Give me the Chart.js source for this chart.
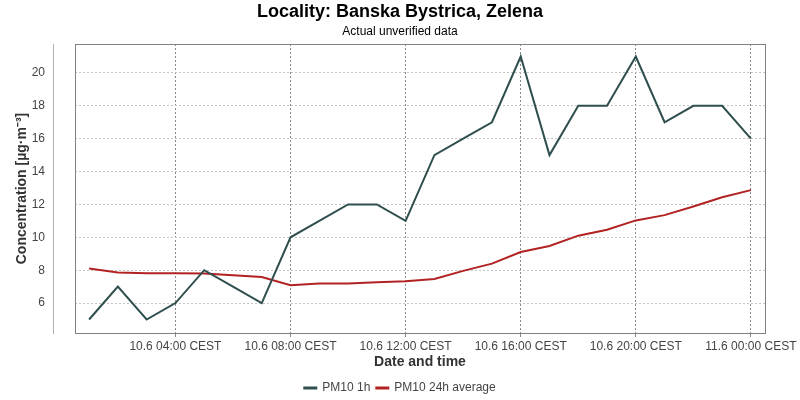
<!DOCTYPE html>
<html>
<head>
<meta charset="utf-8">
<script src="https://cdn.jsdelivr.net/npm/chart.js@4/dist/chart.umd.min.js"></script>
<style>
  html, body { margin: 0; padding: 0; background: #fff; }
  #wrap { width: 800px; height: 400px; }
</style>
</head>
<body>
<div id="wrap"><canvas id="pmChart" width="800" height="400"></canvas></div>
<script>
// hours after 10.6 00:00 CEST
const hours = [1, 2, 3, 4, 5, 6, 7, 8, 9, 10, 11, 12, 13, 14, 15, 16, 17, 18, 19, 20, 21, 22, 23, 24];
const pm10Hourly = [5, 7, 5, 6, 8, 7, 6, 10, 11, 12, 12, 11, 15, 16, 17, 21, 15, 18, 18, 21, 17, 18, 18, 16];
const pm10Daily = [8.1, 7.86, 7.82, 7.82, 7.8, 7.7, 7.59, 7.09, 7.19, 7.19, 7.27, 7.33, 7.47, 7.96, 8.4, 9.11, 9.47, 10.1, 10.46, 11.03, 11.35, 11.88, 12.44, 12.87];
const xTickHours = [4, 8, 12, 16, 20, 24];
const xTickLabels = ['10.6 04:00 CEST', '10.6 08:00 CEST', '10.6 12:00 CEST', '10.6 16:00 CEST', '10.6 20:00 CEST', '11.6 00:00 CEST'];
const yTicks = [6, 8, 10, 12, 14, 16, 18, 20];

const FONT = 'Liberation Sans, Arial, sans-serif';

// plot frame + detached y axis line
const framePlugin = {
    id: 'frame',
    afterDraw(chart) {
        const a = chart.chartArea;
        const ctx = chart.ctx;
        ctx.save();
        ctx.strokeStyle = '#808080';
        ctx.lineWidth = 1;
        ctx.strokeRect(Math.round(a.left) + 0.5, Math.round(a.top) + 0.5,
            Math.round(a.right - a.left), Math.round(a.bottom - a.top));
        ctx.strokeStyle = '#b0b0b0';
        ctx.beginPath();
        ctx.moveTo(Math.round(a.left) - 21.5, a.top);
        ctx.lineTo(Math.round(a.left) - 21.5, a.bottom + 1);
        ctx.stroke();
        ctx.restore();
    }
};

const toPoints = vals => vals.map((v, i) => ({ x: hours[i], y: v }));

new Chart(document.getElementById('pmChart'), {
    type: 'line',
    data: {
        datasets: [{
            label: 'PM10 1h',
            data: toPoints(pm10Hourly),
            borderColor: '#2f4f4f',
            backgroundColor: '#2f4f4f',
            borderWidth: 2,
            pointRadius: 0,
            tension: 0
        }, {
            label: 'PM10 24h average',
            data: toPoints(pm10Daily),
            borderColor: '#b22222',
            backgroundColor: '#b22222',
            borderWidth: 2,
            pointRadius: 0,
            tension: 0
        }]
    },
    options: {
        responsive: false,
        animation: false,
        layout: { padding: { left: 0, right: 0, top: 0, bottom: -4 } },
        plugins: {
            title: {
                display: true,
                text: 'Locality: Banska Bystrica, Zelena',
                color: '#000',
                font: { family: FONT, size: 18, weight: 'bold' },
                padding: { top: 1, bottom: 0 }
            },
            subtitle: {
                display: true,
                text: 'Actual unverified data',
                color: '#000',
                font: { family: FONT, size: 12 },
                padding: { top: 2, bottom: 5 }
            },
            legend: {
                position: 'bottom',
                labels: {
                    color: '#444',
                    font: { family: FONT, size: 12 },
                    boxWidth: 12,
                    boxHeight: 1,
                    padding: 6
                }
            },
            tooltip: { enabled: false }
        },
        scales: {
            x: {
                type: 'linear',
                min: 0.51,
                max: 24.49,
                afterBuildTicks: axis => { axis.ticks = xTickHours.map(v => ({ value: v })); },
                afterFit: axis => { axis.height = 43; axis.paddingRight = 35; },
                ticks: {
                    color: '#444',
                    font: { family: FONT, size: 12 },
                    padding: 2,
                    maxRotation: 0,
                    autoSkip: false,
                    callback: v => xTickLabels[xTickHours.indexOf(v)]
                },
                grid: {
                    color: '#888',
                    tickLength: 4,
                    tickColor: '#888'
                },
                border: { display: false, dash: [2, 2] },
                title: {
                    display: true,
                    text: 'Date and time',
                    color: '#333',
                    font: { family: FONT, size: 14, weight: 'bold' },
                    padding: { top: 0, bottom: 5 }
                }
            },
            y: {
                min: 4.18,
                max: 21.76,
                afterBuildTicks: axis => { axis.ticks = yTicks.map(v => ({ value: v })); },
                afterFit: axis => { axis.width = 75; },
                ticks: {
                    color: '#444',
                    font: { family: FONT, size: 12 },
                    padding: 30
                },
                grid: {
                    color: '#c4c4c4',
                    drawTicks: false
                },
                border: { display: false, dash: [2, 2] },
                title: {
                    display: true,
                    text: 'Concentration [µg·m⁻³]',
                    color: '#333',
                    font: { family: FONT, size: 14, weight: 'bold' },
                    padding: { top: 14, bottom: 0 }
                }
            }
        }
    },
    plugins: [framePlugin]
});
</script>
</body>
</html>
